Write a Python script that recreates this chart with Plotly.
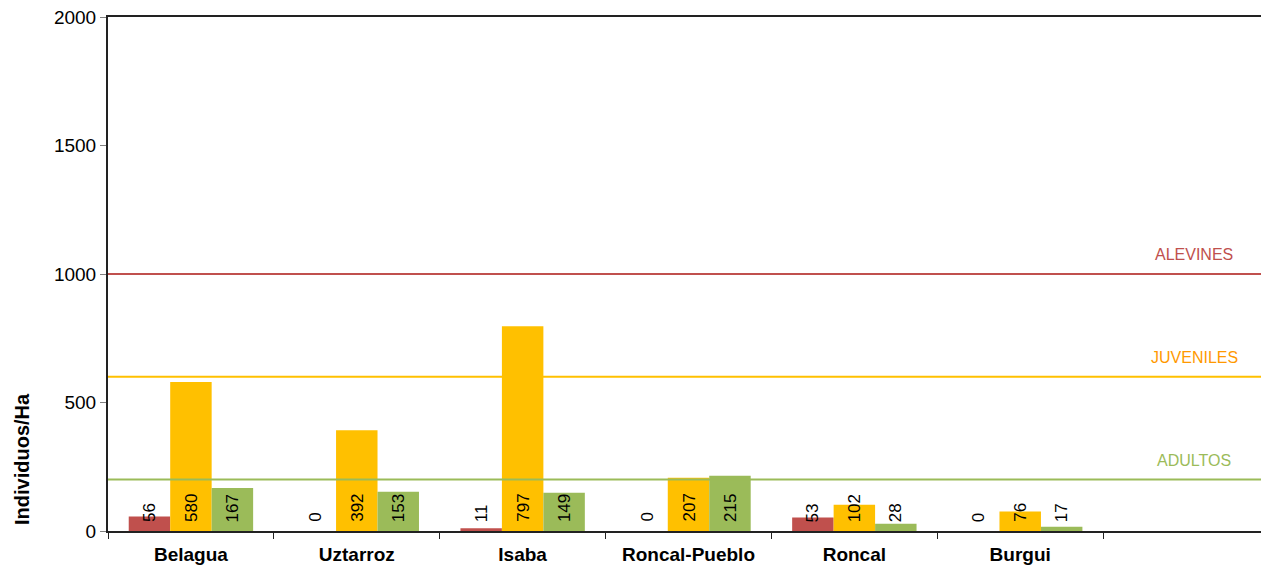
import plotly.graph_objects as go

# ---- data ----
sites = ["Belagua", "Uztarroz", "Isaba", "Roncal-Pueblo", "Roncal", "Burgui"]
all_categories = sites + [" "]
alevines = [56, 0, 11, 0, 53, 0]
juveniles = [580, 392, 797, 207, 102, 76]
adultos = [167, 153, 149, 215, 28, 17]
series_names = ["Alevines", "Juveniles", "Adultos"]
ref_labels = ["ALEVINES", "JUVENILES", "ADULTOS"]
ref_values = [1000, 600, 200]
y_ticks = [0, 500, 1000, 1500, 2000]
y_title = "Individuos/Ha"

# ---- styles ----
bar_colors = ["#C0504D", "#FFC000", "#9BBB59"]
ref_line_colors = ["#C0504D", "#FFC000", "#9BBB59"]
ref_text_colors = ["#C0504D", "#FF9900", "#9BBB59"]
FONT = "Liberation Sans, Arial, sans-serif"

# page body has an 8px margin; compensate so the plot lands where the reference has it
W, H = 1261, 561
L, R, T, B = 100, 0, 9, 38
plot_w = W - L - R
plot_h = H - T - B

fig = go.Figure()
series = [alevines, juveniles, adultos]
for name, vals, col in zip(series_names, series, bar_colors):
    fig.add_trace(go.Bar(x=sites, y=vals, name=name, marker=dict(color=col, line=dict(width=0)),
                         showlegend=False))

# data labels (rotated, at bar base)
cat_w = plot_w / len(all_categories)
bar_w = cat_w * 0.75 / 3
for i, vals in enumerate(series):
    for site, v in zip(sites, vals):
        fig.add_annotation(x=site, y=0, xref="x", yref="y", text=str(v), showarrow=False,
                           textangle=-90, xanchor="center", yanchor="bottom",
                           xshift=(i - 1) * bar_w, yshift=7,
                           font=dict(family=FONT, size=17, color="#000000"))

# reference lines
for lab, val, lc, tc in zip(ref_labels, ref_values, ref_line_colors, ref_text_colors):
    fig.add_shape(type="line", xref="paper", yref="y", x0=0, x1=1, y0=val, y1=val,
                  line=dict(color=lc, width=2))
    fig.add_annotation(xref="paper", yref="y", x=(1194 - 108) / plot_w, y=val, text=lab,
                       showarrow=False, xanchor="center", yanchor="bottom", yshift=9,
                       font=dict(family=FONT, size=16, color=tc))

# y-axis title (placed low, as in the reference)
fig.add_annotation(xref="paper", yref="paper", x=(22 - 108) / plot_w, y=(531 - 459) / plot_h,
                   text="<b>" + y_title + "</b>", textangle=-90, showarrow=False,
                   xanchor="center", yanchor="middle",
                   font=dict(family=FONT, size=20, color="#000000"))

fig.update_layout(
    width=W, height=H,
    margin=dict(l=L, r=R, t=T, b=B, autoexpand=False),
    paper_bgcolor="white", plot_bgcolor="white",
    barmode="group", bargap=0.25, bargroupgap=0,
    font=dict(family=FONT, size=19, color="#000000"),
)
fig.update_xaxes(type="category", categoryorder="array", categoryarray=all_categories,
                 range=[-0.5, len(all_categories) - 0.5],
                 showline=True, linecolor="#222222", linewidth=2, mirror=True,
                 ticks="outside", ticklen=6, tickcolor="#222222", tickson="boundaries",
                 ticklabelstandoff=5, automargin=False,
                 showgrid=False, tickfont=dict(family=FONT, size=19, color="#000000", weight="bold"))
fig.update_yaxes(range=[0, 2000], tickvals=y_ticks, showline=True, linecolor="#222222", linewidth=2,
                 ticks="outside", ticklen=6, tickcolor="#808080", showgrid=False, zeroline=False,
                 ticklabeloverflow="allow", automargin=False,
                 tickfont=dict(family=FONT, size=19, color="#000000"))

fig.write_html("out.html")
